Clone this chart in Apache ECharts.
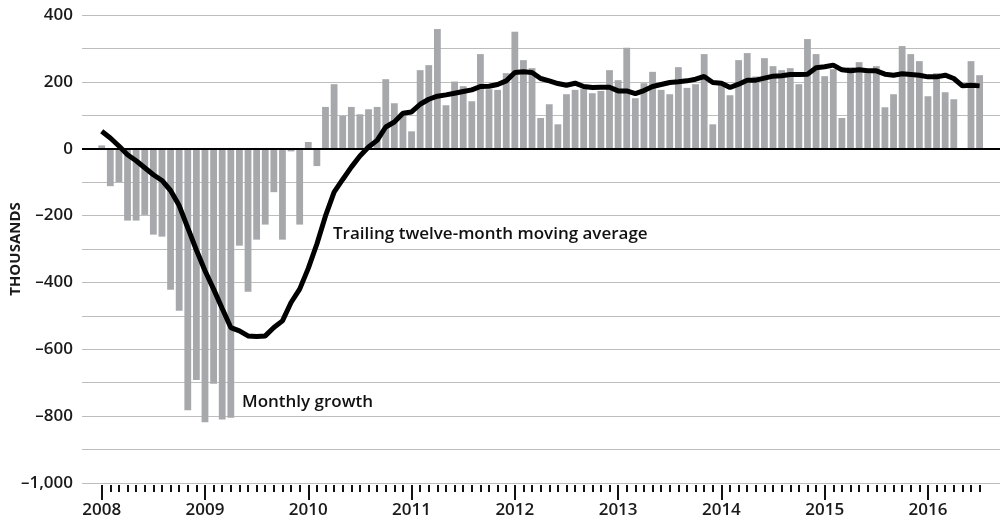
<!DOCTYPE html>
<html>
<head>
<meta charset="utf-8">
<script src="https://cdn.jsdelivr.net/npm/echarts@6/dist/echarts.min.js"></script>
<style>
  html, body { margin: 0; padding: 0; background: #fff; }
  #chart { width: 1000px; height: 524px; }
</style>
</head>
<body>
<div id="chart"></div>
<script>
  // 年份刻度标签（每年一月）
  const yearLabels = ['2008', '2009', '2010', '2011', '2012', '2013', '2014', '2015', '2016']
  // 月度就业增长（千人），2008年1月 - 2016年7月
  const monthlyGrowth = [
    10, -112, -100, -215, -215, -198, -257, -263, -422, -485, -782, -692,
    -818, -703, -810, -805, -290, -428, -272, -227, -130, -272, -8, -227,
    20, -52, 125, 193, 98, 125, 103, 118, 125, 208, 136, 108,
    52, 235, 250, 358, 130, 201, 187, 142, 283, 178, 176, 226,
    350, 265, 241, 92, 133, 73, 163, 176, 180, 166, 173, 235,
    205, 302, 151, 196, 230, 176, 163, 244, 182, 193, 283, 73,
    190, 160, 265, 286, 216, 271, 247, 235, 241, 193, 328, 283,
    217, 238, 92, 244, 259, 226, 247, 124, 163, 307, 283, 262,
    157, 226, 169, 148, 0, 262, 220
  ]
  // 十二个月移动平均
  const movingAverage = [
    52, 32, 8, -18, -36, -57, -78, -95, -125, -170, -237, -303,
    -365, -420, -478, -535, -545, -560, -562, -560, -535, -515, -460, -420,
    -358, -285, -201, -130, -92, -55, -22, 5, 25, 65, 80, 106,
    110, 133, 148, 157, 161, 166, 171, 176, 186, 187, 192, 203,
    228, 230, 228, 210, 203, 195, 190, 196, 186, 183, 184, 184,
    173, 173, 165, 174, 186, 192, 198, 200, 203, 208, 216, 198,
    196, 183, 193, 205, 205, 211, 217, 218, 222, 222, 223, 242,
    245, 250, 236, 233, 236, 233, 233, 223, 220, 224, 222, 220,
    215, 215, 220, 210, 188, 190, 188
  ]

  const monthIdx = monthlyGrowth.map((v, i) => i)
  const yearIdx = yearLabels.map((y, i) => i * 12)
  const xMin = -2.29
  const xMax = 104.37
  const font = '"Open Sans", "DejaVu Sans", sans-serif'

  function fmtY (v) {
    if (v % 200 !== 0) return ''
    const s = Math.abs(v).toLocaleString('en-US')
    return v < 0 ? '\u2013' + s : s
  }

  const chart = echarts.init(document.getElementById('chart'))
  const option = {
    animation: false,
    grid: { left: 82, right: 0, top: 15, bottom: 41, outerBoundsMode: 'none' },
    xAxis: [{
      // 月刻度（短）
      type: 'value',
      min: xMin,
      max: xMax,
      position: 'bottom',
      offset: 2,
      axisLine: { show: false, onZero: false },
      splitLine: { show: false },
      axisLabel: { show: false },
      axisTick: {
        show: true,
        customValues: monthIdx,
        length: 7,
        lineStyle: { color: '#111', width: 2 }
      }
    }, {
      // 年刻度（长）+ 标签
      type: 'value',
      min: xMin,
      max: xMax,
      position: 'bottom',
      offset: 2,
      axisLine: { show: false, onZero: false },
      splitLine: { show: false },
      axisTick: {
        show: true,
        customValues: yearIdx,
        length: 15,
        lineStyle: { color: '#111', width: 2 }
      },
      axisLabel: {
        customValues: yearIdx,
        formatter: v => yearLabels[Math.round(v / 12)],
        margin: 17,
        color: '#1a1a1a',
        fontFamily: font,
        fontWeight: 600,
        fontSize: 17
      }
    }],
    yAxis: {
      type: 'value',
      min: -1000,
      max: 400,
      interval: 100,
      axisLine: { show: false },
      axisTick: { show: false },
      axisLabel: {
        formatter: fmtY,
        margin: 9,
        color: '#1a1a1a',
        fontFamily: font,
        fontWeight: 600,
        fontSize: 17
      },
      splitLine: { lineStyle: { color: '#bdbdbd', width: 1 } }
    },
    series: [{
      name: 'Monthly growth',
      type: 'bar',
      barWidth: 6.8,
      itemStyle: { color: '#a7a8ab' },
      data: monthlyGrowth.map((v, i) => [i, v]),
      markLine: {
        silent: true,
        symbol: 'none',
        label: { show: false },
        lineStyle: { color: '#000', width: 2, type: 'solid' },
        data: [{ yAxis: 0 }]
      }
    }, {
      name: 'Trailing twelve-month moving average',
      type: 'line',
      symbol: 'none',
      lineStyle: { color: '#000', width: 5 },
      data: movingAverage.map((v, i) => [i, v]),
      z: 5
    }],
    graphic: [{
      // 纵轴标题
      type: 'text',
      x: 16,
      y: 249,
      rotation: Math.PI / 2,
      style: {
        text: 'THOUSANDS',
        font: 'bold 15px ' + font,
        fill: '#1a1a1a',
        align: 'center',
        verticalAlign: 'middle'
      }
    }, {
      type: 'text',
      left: 333,
      top: 226,
      style: {
        text: 'Trailing twelve-month moving average',
        font: '600 17px ' + font,
        fill: '#111'
      }
    }, {
      type: 'text',
      left: 242,
      top: 394,
      style: {
        text: 'Monthly growth',
        font: '600 17px ' + font,
        fill: '#111'
      }
    }]
  }
  chart.setOption(option)
</script>
</body>
</html>
